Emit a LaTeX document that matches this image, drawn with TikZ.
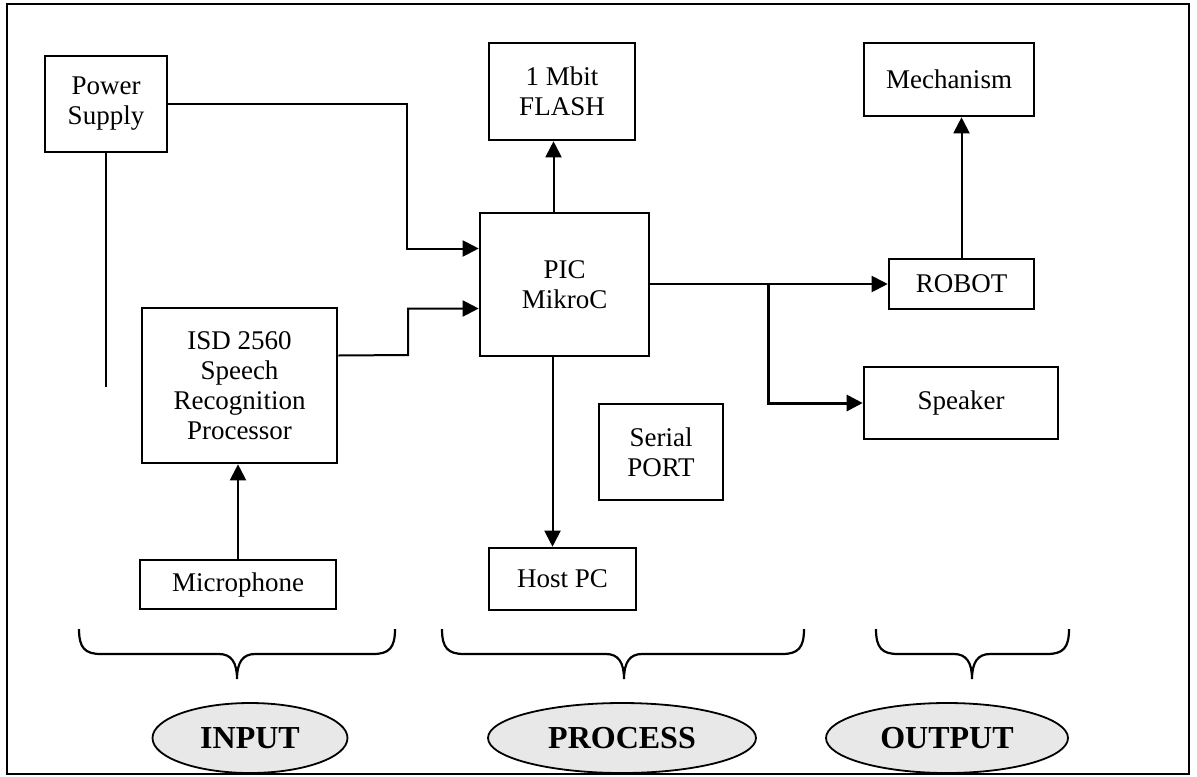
\documentclass[tikz,border=0pt]{standalone}
\usepackage{fontspec}
\setmainfont{Liberation Serif}
\usetikzlibrary{arrows.meta,calc,shapes.geometric}

\begin{document}
\begin{tikzpicture}[x=0.5pt,y=-0.5pt,
        box/.style={draw,line width=1.3pt,align=center,inner sep=0pt,font=\fontsize{13.5}{15}\selectfont},
        arr/.style={line width=1pt,-{Triangle[length=8pt,width=8pt]}},
        wire/.style={line width=1.1pt},
        stage/.style={draw,ellipse,fill=black!9,line width=0.9pt,inner sep=0pt,minimum height=35pt,font=\fontsize{16}{18}\selectfont\bfseries}]
        \useasboundingbox (0,0) rectangle (1197,776);
        \draw[line width=1.1pt] (7,4) rectangle (1189,774);
        \node[box,minimum width=61pt,minimum height=48pt] (psu) at (106,104) {Power\\Supply};
        \node[box,minimum width=73pt,minimum height=48.5pt] (flash) at (562,91.5) {1 Mbit\\FLASH};
        \node[box,minimum width=85pt,minimum height=36.5pt] (mech) at (949,79.5) {Mechanism};
        \node[box,minimum width=84.5pt,minimum height=71.5pt] (pic) at (564.5,284.5) {PIC\\MikroC};
        \node[box,minimum width=72.5pt,minimum height=25pt] (robot) at (961.5,284) {ROBOT};
        \node[box,minimum width=97.5pt,minimum height=77.5pt] (isd) at (239.5,385.5) {ISD 2560\\Speech\\Recognition\\Processor};
        \node[box,minimum width=97pt,minimum height=36pt] (speaker) at (961,403) {Speaker};
        \node[box,minimum width=62pt,minimum height=48pt] (serial) at (661,452) {Serial\\PORT};
        \node[box,minimum width=98pt,minimum height=24.5pt] (mic) at (238,584.5) {Microphone};
        \node[box,minimum width=73.5pt,minimum height=31pt] (host) at (562.5,579) {Host PC};
        \coordinate (psuend) at (106,387);
        \coordinate (split) at (768,284);
        \draw[wire] (psu.south) -- (psuend);
        \draw[arr] (psu.east) -- (407,104) |- ([yshift=18pt]pic.west);
        \draw[arr] ([yshift=15pt]isd.east) -- (408,355) |- ([yshift=-12pt]pic.west);
        \draw[arr] (mic.north) -- (mic.north |- isd.south);
        \draw[arr] ([xshift=-5.5pt]pic.north) -- ([xshift=-5.5pt]pic.north |- flash.south);
        \draw[arr] ([xshift=-6pt]pic.south) -- ([xshift=-6pt]pic.south |- host.north);
        \draw[arr] (robot.west -| pic.east) -- (robot.west);
        \draw[arr,line width=1.5pt] (split) |- (speaker.west);
        \draw[arr] (robot.north) -- (robot.north |- mech.south);
        \foreach \xl/\xm/\xr in {79/237/395, 442/624/804, 876/972/1069}
            \draw[wire] (\xl,629) .. controls (\xl,648) and (\xl+6,654) .. (\xl+22,654) -- (\xm-18,654)
                .. controls (\xm-6,654) and (\xm,662) .. (\xm,679)
                .. controls (\xm,662) and (\xm+6,654) .. (\xm+18,654) -- (\xr-22,654)
                .. controls (\xr-6,654) and (\xr,648) .. (\xr,629);
        \node[stage,minimum width=97.5pt] (input) at (250,738) {INPUT};
        \node[stage,minimum width=134pt] (process) at (622,738) {PROCESS};
        \node[stage,minimum width=121pt] (output) at (947,738) {OUTPUT};
    \end{tikzpicture}
\end{document}
